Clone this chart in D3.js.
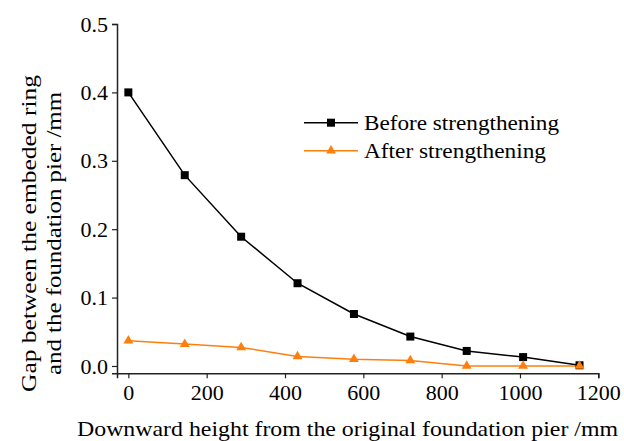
<!DOCTYPE html>
<html><head><meta charset="utf-8">
<script src="https://cdn.jsdelivr.net/npm/d3@7/dist/d3.min.js"></script>
<style>body{margin:0;background:#fff}svg{display:block}text{font-family:"Liberation Serif","Times New Roman",serif;fill:#000}</style>
</head><body><svg id="c" width="624" height="441"></svg>
<script>
const heights = [0, 144, 288, 432, 576, 720, 864, 1008, 1152];
const before = [0.400, 0.279, 0.189, 0.121, 0.076, 0.043, 0.022, 0.013, 0.001];
const after = [0.037, 0.032, 0.027, 0.014, 0.010, 0.008, 0.000, 0.000, 0.000];
const xTicks = [0, 200, 400, 600, 800, 1000, 1200];
const yTicks = [0.0, 0.1, 0.2, 0.3, 0.4, 0.5];
const seriesNames = ["Before strengthening", "After strengthening"];
const colors = ["#000000", "#ff7f0e"];

const svg = d3.select("#c");
const L = 117, R = 598.3, T = 24, B = 373.3;
const x = d3.scaleLinear().domain([-29, 1200]).range([L, R]);
const y = d3.scaleLinear().domain([-0.0107, 0.5]).range([B, T]);
const FS = 22;

const xa = svg.append("g").attr("transform", `translate(0,${B})`)
  .call(d3.axisBottom(x).tickValues(xTicks).tickFormat(d3.format("d")).tickSizeOuter(0).tickSize(5).tickPadding(6));
const ya = svg.append("g").attr("transform", `translate(${L},0)`)
  .call(d3.axisLeft(y).tickValues(yTicks).tickFormat(d3.format(".1f")).tickSizeOuter(0).tickSize(5).tickPadding(4));
[xa, ya].forEach(a => {
  a.select(".domain").attr("stroke", "#222").attr("stroke-width", 1.5);
  a.selectAll(".tick line").attr("stroke", "#222").attr("stroke-width", 1.2);
  a.selectAll("text").style("font-family", '"Liberation Serif",serif').style("font-size", FS + "px").attr("fill", "#000");
});

const line = d3.line().x((d, i) => x(heights[i])).y(d => y(d));
[before, after].forEach((s, k) => {
  svg.append("path").datum(s).attr("d", line).attr("fill", "none").attr("stroke", colors[k]).attr("stroke-width", 1.5);
});
svg.selectAll(".sq").data(before).enter().append("rect")
  .attr("x", (d, i) => x(heights[i]) - 4).attr("y", d => y(d) - 4).attr("width", 8).attr("height", 8).attr("fill", colors[0]);
const tri = d3.symbol().type(d3.symbolTriangle).size(42);
svg.selectAll(".tr").data(after).enter().append("path")
  .attr("d", tri).attr("transform", (d, i) => `translate(${x(heights[i])},${y(d)})`).attr("fill", colors[1]);

// legend
const lg = svg.append("g");
const legW = [195, 182];
seriesNames.forEach((n, k) => {
  const yy = 122.7 + k * 28;
  lg.append("line").attr("x1", 304).attr("x2", 358).attr("y1", yy).attr("y2", yy).attr("stroke", colors[k]).attr("stroke-width", 1.5);
  if (k === 0) lg.append("rect").attr("x", 327).attr("y", yy - 4).attr("width", 8).attr("height", 8).attr("fill", colors[k]);
  else lg.append("path").attr("d", tri).attr("transform", `translate(331,${yy})`).attr("fill", colors[k]);
  lg.append("text").attr("x", 364).attr("y", yy + 7).style("font-size", FS + "px")
    .attr("textLength", legW[k]).attr("lengthAdjust", "spacingAndGlyphs").text(n);
});

svg.append("text").attr("x", 77).attr("y", 436).style("font-size", FS + "px")
  .attr("textLength", 541).attr("lengthAdjust", "spacingAndGlyphs")
  .text("Downward height from the original foundation pier /mm");
const yt = svg.append("text").attr("transform", "rotate(-90)").style("font-size", FS + "px");
yt.append("tspan").attr("x", -392).attr("y", 36).attr("textLength", 317).attr("lengthAdjust", "spacingAndGlyphs").text("Gap between the embeded ring");
yt.append("tspan").attr("x", -375).attr("y", 61).attr("textLength", 283).attr("lengthAdjust", "spacingAndGlyphs").text("and the foundation pier /mm");
</script></body></html>
